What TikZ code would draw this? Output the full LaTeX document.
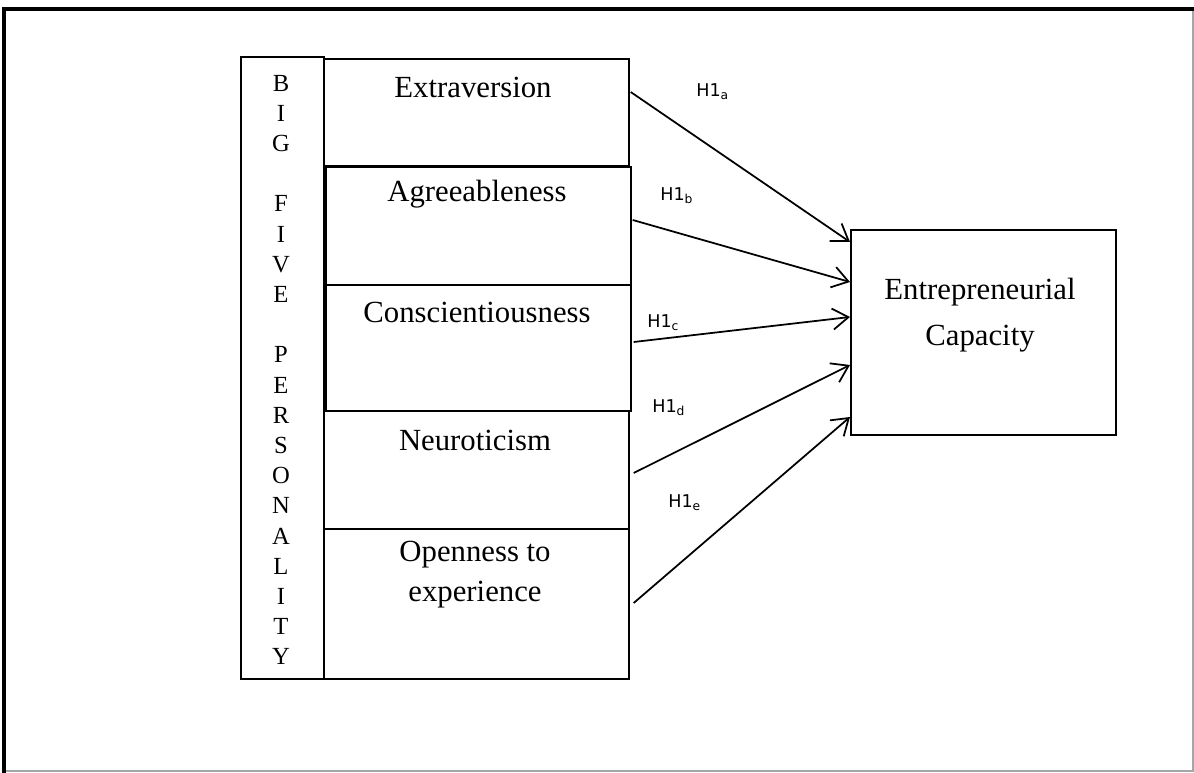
\documentclass[tikz,border=0pt]{standalone}
\usepackage{fontspec}
\setmainfont{Liberation Serif}
\newfontfamily\hypfont{DejaVu Sans}
\usetikzlibrary{arrows.meta,calc}

\begin{document}
\begin{tikzpicture}[x=0.02cm,y=-0.02cm,
  box/.style={draw,line width=1pt,anchor=north west,inner sep=0pt},
  trait/.style={font=\fontsize{17.5}{22.7}\selectfont,align=center,inner sep=0pt},
  letter/.style={font=\fontsize{14}{16}\selectfont,inner sep=0pt},
  hyp/.style={font=\hypfont\fontsize{10}{12}\selectfont,anchor=west,inner sep=0pt},
  link/.style={line width=1pt,-{Straight Barb[length=9pt,width=12pt,line width=1pt]}}]
  \useasboundingbox (0,0) rectangle (1194,773);
  % frame
  \draw[gray!70,line width=0.6pt] (4,771) -- (1193,771) -- (1193,9);
  \draw[line width=2.3pt] (4,773) -- (4,9) -- (1194,9);

  % big five column
  \node[box,minimum width=1.66cm,minimum height=12.44cm] (col) at (240,56) {};
  \foreach \ltr/\row in {B/0,I/1,G/2,F/4,I/5,V/6,E/7,P/9,E/10,R/11,S/12,O/13,N/14,A/15,L/16,I/17,T/18,Y/19}
    \node[letter] (l\row) at (281,83+30.2*\row) {\ltr};

  % traits
  \node[box,minimum width=6.1cm,minimum height=2.14cm] (ext) at (323,58) {};
  \node[box,minimum width=6.1cm,minimum height=2.36cm] (agr) at (325,166) {};
  \node[box,minimum width=6.1cm,minimum height=2.52cm] (con) at (325,284) {};
  \node[box,minimum width=6.1cm,minimum height=2.36cm] (neu) at (323,410) {};
  \node[box,minimum width=6.1cm,minimum height=3.0cm] (opn) at (323,528) {};
  \node[trait] (extT) at (473,87) {Extraversion};
  \node[trait] (agrT) at (477,194) {Agreeableness};
  \node[trait] (conT) at (477,312) {Conscientiousness};
  \node[trait] (neuT) at (475,440) {Neuroticism};
  \node[trait] (opnT) at (475,575) {Openness to\\experience};

  % outcome
  \node[box,minimum width=5.3cm,minimum height=4.1cm] (cap) at (850,229) {};
  \node[trait,font=\fontsize{17.5}{26}\selectfont] (capT) at (980,315) {Entrepreneurial\\Capacity};

  % hypotheses
  \draw[link] ($(ext.north east)+(1,34)$) -- ($(cap.north west)+(0,13)$);
  \draw[link] ($(agr.north east)+(1,54)$) -- ($(cap.north west)+(0,53)$);
  \draw[link] ($(con.north east)+(2,58)$) -- ($(cap.north west)+(0,88)$);
  \draw[link] ($(neu.north east)+(4,63)$) -- ($(cap.north west)+(0,136)$);
  \draw[link] ($(opn.north east)+(4,75)$) -- ($(cap.north west)+(0,188)$);
  \node[hyp] (hA) at (696,92) {H1\textsubscript{a}};
  \node[hyp] (hB) at (660,196) {H1\textsubscript{b}};
  \node[hyp] (hC) at (647,323) {H1\textsubscript{c}};
  \node[hyp] (hD) at (652,408) {H1\textsubscript{d}};
  \node[hyp] (hE) at (668,503) {H1\textsubscript{e}};
\end{tikzpicture}
\end{document}
